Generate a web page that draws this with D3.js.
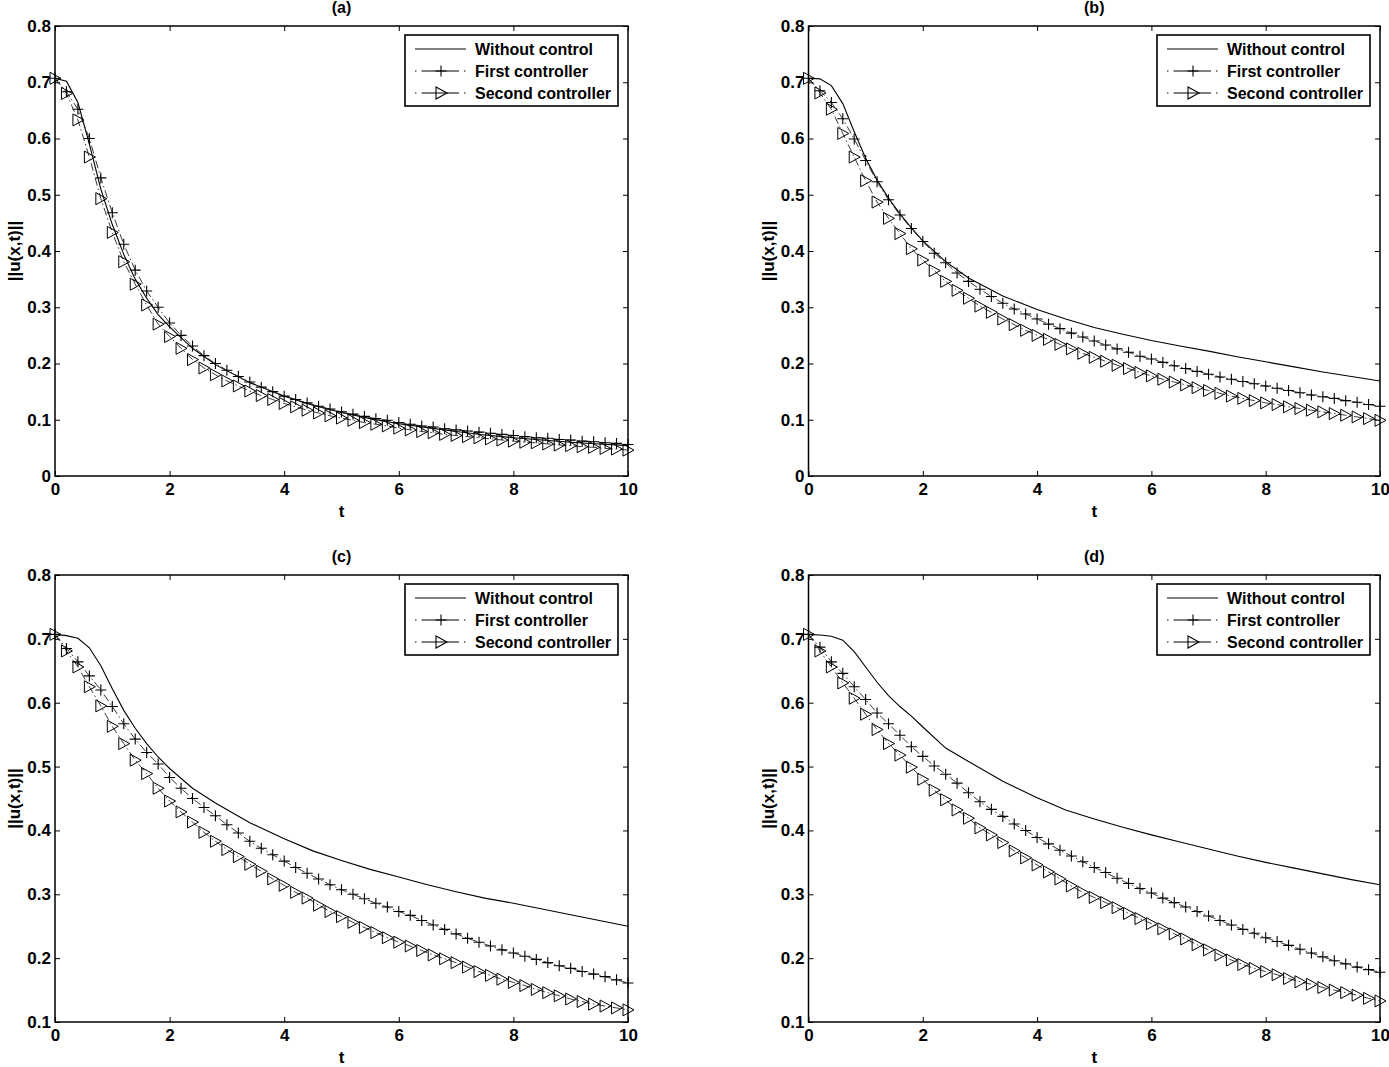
<!DOCTYPE html>
<html>
<head>
<meta charset="utf-8">
<script src="https://cdn.jsdelivr.net/npm/d3@7"></script>
<style>
body { margin: 0; background: #fff; }
svg text { font-family: "Liberation Sans", Arial, sans-serif; font-weight: bold; fill: #000; }
</style>
</head>
<body>
<script>
// time grid of the marked series (every 0.2)
var tMarks = [0, 0.2, 0.4, 0.6, 0.8, 1, 1.2, 1.4, 1.6, 1.8, 2, 2.2, 2.4, 2.6, 2.8, 3, 3.2, 3.4, 3.6, 3.8,
  4, 4.2, 4.4, 4.6, 4.8, 5, 5.2, 5.4, 5.6, 5.8, 6, 6.2, 6.4, 6.6, 6.8, 7, 7.2, 7.4, 7.6, 7.8,
  8, 8.2, 8.4, 8.6, 8.8, 9, 9.2, 9.4, 9.6, 9.8, 10];
// time grid of the uncontrolled (solid) curve
var tSolid = [0, 0.2, 0.4, 0.6, 0.8, 1, 1.2, 1.4, 1.6, 1.8, 2, 2.4, 2.8, 3.4, 4, 4.5, 5, 5.5, 6, 6.5, 7, 7.5, 8, 8.5, 9, 9.5, 10];

var xTicks = [0, 2, 4, 6, 8, 10];
var yTicksTop = [0, 0.1, 0.2, 0.3, 0.4, 0.5, 0.6, 0.7, 0.8];
var yTicksBottom = [0.1, 0.2, 0.3, 0.4, 0.5, 0.6, 0.7, 0.8];
var legendNames = ["Without control", "First controller", "Second controller"];

// (a)
var noCtrlA = [0.707, 0.702, 0.664, 0.590, 0.510, 0.447, 0.394, 0.350, 0.316, 0.287, 0.265, 0.227, 0.198, 0.166,
  0.142, 0.126, 0.113, 0.102, 0.093, 0.086, 0.079, 0.073, 0.068, 0.064, 0.060, 0.057, 0.054];
var firstA = [0.707, 0.683, 0.652, 0.600, 0.530, 0.468, 0.412, 0.366, 0.329, 0.300, 0.272, 0.250, 0.231, 0.214, 0.200,
  0.188, 0.177, 0.167, 0.158, 0.150, 0.142, 0.136, 0.130, 0.124, 0.119, 0.114, 0.110, 0.106, 0.102, 0.099,
  0.095, 0.092, 0.089, 0.087, 0.084, 0.082, 0.080, 0.078, 0.076, 0.074, 0.072, 0.070, 0.068, 0.067, 0.065,
  0.064, 0.062, 0.061, 0.059, 0.058, 0.056];
var secondA = [0.707, 0.680, 0.633, 0.567, 0.493, 0.433, 0.381, 0.341, 0.304, 0.270, 0.248, 0.227, 0.207, 0.192, 0.180,
  0.169, 0.160, 0.151, 0.143, 0.136, 0.129, 0.123, 0.117, 0.112, 0.107, 0.103, 0.099, 0.095, 0.092, 0.089,
  0.085, 0.082, 0.079, 0.077, 0.074, 0.072, 0.070, 0.068, 0.066, 0.064, 0.062, 0.060, 0.059, 0.057, 0.055,
  0.054, 0.052, 0.051, 0.049, 0.048, 0.046];

// (b)
var noCtrlB = [0.707, 0.706, 0.694, 0.662, 0.612, 0.565, 0.526, 0.494, 0.466, 0.441, 0.418, 0.381, 0.352, 0.320,
  0.296, 0.279, 0.264, 0.252, 0.241, 0.231, 0.222, 0.212, 0.203, 0.194, 0.185, 0.177, 0.169];
var firstB = [0.707, 0.685, 0.664, 0.635, 0.599, 0.561, 0.523, 0.491, 0.464, 0.440, 0.417, 0.396, 0.379, 0.361, 0.346,
  0.332, 0.319, 0.307, 0.297, 0.288, 0.279, 0.270, 0.262, 0.254, 0.247, 0.240, 0.233, 0.226, 0.220, 0.213,
  0.208, 0.202, 0.196, 0.191, 0.186, 0.181, 0.176, 0.172, 0.168, 0.164, 0.160, 0.156, 0.152, 0.148, 0.144,
  0.141, 0.138, 0.134, 0.131, 0.127, 0.124];
var secondB = [0.707, 0.681, 0.652, 0.609, 0.567, 0.525, 0.487, 0.458, 0.431, 0.404, 0.384, 0.365, 0.346, 0.330, 0.316,
  0.302, 0.291, 0.279, 0.269, 0.259, 0.250, 0.243, 0.234, 0.226, 0.218, 0.211, 0.204, 0.197, 0.191, 0.184,
  0.178, 0.172, 0.167, 0.162, 0.157, 0.152, 0.147, 0.142, 0.138, 0.134, 0.130, 0.127, 0.123, 0.120, 0.117,
  0.114, 0.111, 0.108, 0.105, 0.102, 0.099];

// (c)
var noCtrlC = [0.707, 0.705, 0.701, 0.686, 0.658, 0.622, 0.588, 0.560, 0.536, 0.515, 0.497, 0.466, 0.443, 0.412,
  0.387, 0.368, 0.353, 0.339, 0.327, 0.315, 0.304, 0.294, 0.286, 0.277, 0.268, 0.259, 0.250];
var firstC = [0.707, 0.685, 0.664, 0.642, 0.620, 0.594, 0.567, 0.543, 0.522, 0.504, 0.483, 0.466, 0.450, 0.436, 0.423,
  0.409, 0.396, 0.383, 0.372, 0.362, 0.352, 0.342, 0.333, 0.324, 0.315, 0.307, 0.300, 0.293, 0.286, 0.280,
  0.273, 0.267, 0.259, 0.252, 0.245, 0.238, 0.231, 0.225, 0.219, 0.213, 0.208, 0.203, 0.198, 0.193, 0.188,
  0.184, 0.179, 0.175, 0.171, 0.166, 0.161];
var secondC = [0.707, 0.681, 0.656, 0.625, 0.595, 0.563, 0.536, 0.510, 0.489, 0.466, 0.446, 0.429, 0.413, 0.397, 0.383,
  0.370, 0.359, 0.347, 0.336, 0.324, 0.314, 0.303, 0.294, 0.283, 0.273, 0.265, 0.256, 0.248, 0.240, 0.232,
  0.225, 0.219, 0.212, 0.205, 0.199, 0.193, 0.186, 0.179, 0.173, 0.167, 0.162, 0.157, 0.151, 0.146, 0.141,
  0.136, 0.132, 0.128, 0.125, 0.122, 0.119];

// (d)
var noCtrlD = [0.707, 0.706, 0.704, 0.698, 0.680, 0.656, 0.632, 0.611, 0.594, 0.579, 0.562, 0.529, 0.508, 0.477,
  0.451, 0.432, 0.418, 0.405, 0.393, 0.382, 0.371, 0.360, 0.350, 0.341, 0.332, 0.323, 0.315];
var firstD = [0.707, 0.687, 0.664, 0.646, 0.625, 0.605, 0.584, 0.567, 0.549, 0.531, 0.516, 0.501, 0.488, 0.474, 0.459,
  0.445, 0.433, 0.422, 0.410, 0.400, 0.389, 0.379, 0.369, 0.360, 0.351, 0.342, 0.334, 0.325, 0.317, 0.309,
  0.302, 0.294, 0.287, 0.280, 0.273, 0.266, 0.259, 0.252, 0.245, 0.239, 0.232, 0.226, 0.220, 0.214, 0.208,
  0.202, 0.196, 0.191, 0.186, 0.182, 0.178];
var secondD = [0.707, 0.681, 0.656, 0.631, 0.607, 0.582, 0.558, 0.536, 0.518, 0.499, 0.480, 0.463, 0.448, 0.432, 0.419,
  0.404, 0.393, 0.381, 0.368, 0.357, 0.346, 0.335, 0.324, 0.313, 0.303, 0.295, 0.287, 0.279, 0.270, 0.262,
  0.254, 0.246, 0.238, 0.230, 0.221, 0.213, 0.205, 0.197, 0.190, 0.184, 0.179, 0.174, 0.168, 0.163, 0.159,
  0.154, 0.150, 0.146, 0.142, 0.137, 0.133];

var panels = [
  {title: "(a)", left: 55, right: 628, top: 26, bottom: 476, yDomain: [0, 0.8], yTicks: yTicksTop, none: noCtrlA, first: firstA, second: secondA},
  {title: "(b)", left: 808.5, right: 1380, top: 26, bottom: 476, yDomain: [0, 0.8], yTicks: yTicksTop, none: noCtrlB, first: firstB, second: secondB},
  {title: "(c)", left: 55, right: 628, top: 575, bottom: 1022, yDomain: [0.1, 0.8], yTicks: yTicksBottom, none: noCtrlC, first: firstC, second: secondC},
  {title: "(d)", left: 808.5, right: 1380, top: 575, bottom: 1022, yDomain: [0.1, 0.8], yTicks: yTicksBottom, none: noCtrlD, first: firstD, second: secondD}
];

var plusPath = "M-5.5,0H5.5M0,-5.5V5.5";
var triPath = "M-5,-6L6,0L-5,6Z";
var dashDot = "8,3,1.5,3";

var svg = d3.select("body").append("svg")
  .attr("width", 1389)
  .attr("height", 1067);

panels.forEach(function(p) {
  var g = svg.append("g");
  var x = d3.scaleLinear().domain([0, 10]).range([p.left, p.right]);
  var y = d3.scaleLinear().domain(p.yDomain).range([p.bottom, p.top]);
  var fmt = d3.format("~g");

  // axes, ticks pointing inward like matlab
  var ax = g.append("g").attr("transform", "translate(0," + p.bottom + ")")
    .call(d3.axisBottom(x).tickValues(xTicks).tickFormat(fmt).tickSizeInner(-5).tickSizeOuter(0).tickPadding(7));
  var ay = g.append("g").attr("transform", "translate(" + p.left + ",0)")
    .call(d3.axisLeft(y).tickValues(p.yTicks).tickFormat(fmt).tickSizeInner(-5).tickSizeOuter(0).tickPadding(4));
  var at = g.append("g").attr("transform", "translate(0," + p.top + ")")
    .call(d3.axisTop(x).tickValues(xTicks).tickFormat("").tickSizeInner(-5).tickSizeOuter(0));
  var ar = g.append("g").attr("transform", "translate(" + p.right + ",0)")
    .call(d3.axisRight(y).tickValues(p.yTicks).tickFormat("").tickSizeInner(-5).tickSizeOuter(0));
  [ax, ay, at, ar].forEach(function(a) {
    a.select(".domain").remove();
    a.selectAll("line").attr("stroke", "#000").attr("stroke-width", 1);
    a.selectAll("text").style("font-size", "17px").attr("fill", "#000");
  });

  g.append("rect")
    .attr("x", p.left).attr("y", p.top)
    .attr("width", p.right - p.left).attr("height", p.bottom - p.top)
    .attr("fill", "none").attr("stroke", "#000").attr("stroke-width", 1.5);

  // title and labels
  g.append("text").attr("x", (p.left + p.right) / 2).attr("y", p.top - 13)
    .attr("text-anchor", "middle").style("font-size", "16px").text(p.title);
  g.append("text").attr("x", (p.left + p.right) / 2).attr("y", p.bottom + 41)
    .attr("text-anchor", "middle").style("font-size", "17px").text("t");
  g.append("text")
    .attr("transform", "translate(" + (p.left - 35) + "," + ((p.top + p.bottom) / 2) + ") rotate(-90)")
    .attr("text-anchor", "middle").style("font-size", "17px").text("||u(x,t)||");

  // curves
  var line = d3.line().x(function(d) { return x(d[0]); }).y(function(d) { return y(d[1]); });
  var solidPts = tSolid.map(function(t, i) { return [t, p.none[i]]; });
  var firstPts = tMarks.map(function(t, i) { return [t, p.first[i]]; });
  var secondPts = tMarks.map(function(t, i) { return [t, p.second[i]]; });

  g.append("path").attr("d", line(solidPts))
    .attr("fill", "none").attr("stroke", "#000").attr("stroke-width", 1.1);

  g.append("path").attr("d", line(firstPts))
    .attr("fill", "none").attr("stroke", "#222").attr("stroke-width", 0.9).attr("stroke-dasharray", dashDot);
  g.selectAll(".plus").data(firstPts).enter().append("path")
    .attr("transform", function(d) { return "translate(" + x(d[0]) + "," + y(d[1]) + ")"; })
    .attr("d", plusPath).attr("fill", "none").attr("stroke", "#000").attr("stroke-width", 1.1);

  g.append("path").attr("d", line(secondPts))
    .attr("fill", "none").attr("stroke", "#222").attr("stroke-width", 0.9).attr("stroke-dasharray", dashDot);
  g.selectAll(".tri").data(secondPts).enter().append("path")
    .attr("transform", function(d) { return "translate(" + x(d[0]) + "," + y(d[1]) + ")"; })
    .attr("d", triPath).attr("fill", "none").attr("stroke", "#000").attr("stroke-width", 1);

  // legend
  var lw = 213, lh = 71;
  var lx = p.right - 10 - lw, ly = p.top + 9;
  var leg = g.append("g").attr("transform", "translate(" + lx + "," + ly + ")");
  leg.append("rect").attr("width", lw).attr("height", lh)
    .attr("fill", "#fff").attr("stroke", "#000").attr("stroke-width", 1.6);
  legendNames.forEach(function(name, i) {
    var ry = 14 + i * 22;
    var seg = leg.append("line").attr("x1", 10).attr("x2", 61).attr("y1", ry).attr("y2", ry)
      .attr("stroke", "#000").attr("stroke-width", 1.1);
    if (i > 0) {
      seg.attr("stroke-dasharray", "1.5,5,37.5,5,1.5");
      leg.append("path").attr("transform", "translate(36," + ry + ")")
        .attr("d", i === 1 ? plusPath : triPath)
        .attr("fill", "none").attr("stroke", "#000").attr("stroke-width", 1.1);
    }
    leg.append("text").attr("x", 70).attr("y", ry + 6)
      .style("font-size", "16px").text(name);
  });
});
</script>
</body>
</html>
